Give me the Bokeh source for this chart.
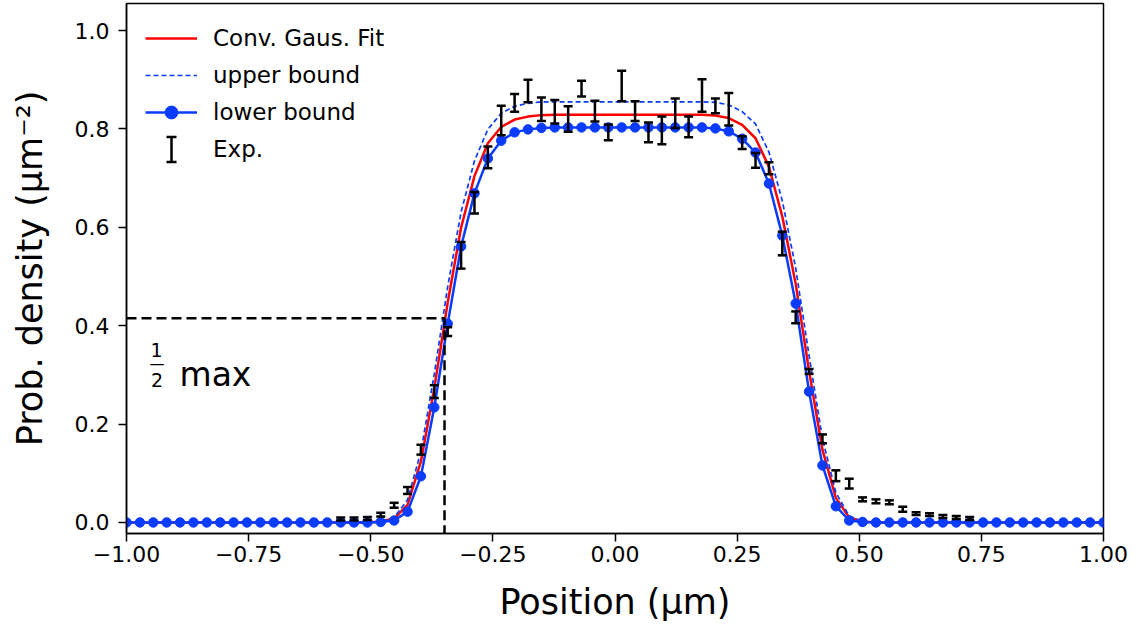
import math
from bokeh.plotting import figure
from bokeh.models import (Range1d, FixedTicker, Legend, LegendItem, Label, ColumnDataSource,
                          Whisker, TeeHead)
from bokeh.embed import file_html
from bokeh.resources import INLINE

# ---------------- data ----------------
positions = [-1.0000, -0.9726, -0.9452, -0.9178, -0.8904, -0.8630, -0.8356, -0.8082,
             -0.7808, -0.7534, -0.7260, -0.6986, -0.6712, -0.6438, -0.6164, -0.5890,
             -0.5616, -0.5342, -0.5068, -0.4795, -0.4521, -0.4247, -0.3973, -0.3699,
             -0.3425, -0.3151, -0.2877, -0.2603, -0.2329, -0.2055, -0.1781, -0.1507,
             -0.1233, -0.0959, -0.0685, -0.0411, -0.0137, 0.0137, 0.0411, 0.0685,
             0.0959, 0.1233, 0.1507, 0.1781, 0.2055, 0.2329, 0.2603, 0.2877,
             0.3151, 0.3425, 0.3699, 0.3973, 0.4247, 0.4521, 0.4795, 0.5068,
             0.5342, 0.5616, 0.5890, 0.6164, 0.6438, 0.6712, 0.6986, 0.7260,
             0.7534, 0.7808, 0.8082, 0.8356, 0.8630, 0.8904, 0.9178, 0.9452,
             0.9726, 1.0000]

lower_bound = [0.0, 0.0, 0.0, 0.0, 0.0, 0.0, 0.0, 0.0, 0.0, 0.0,
               0.0, 0.0, 0.0, 0.0, 0.0, 0.0, 0.0, 0.0, 0.0,
               0.001, 0.004, 0.022, 0.094, 0.234, 0.404, 0.561, 0.669, 0.740, 0.776,
               0.793, 0.799, 0.802,
               0.803, 0.803, 0.803, 0.803, 0.803, 0.803, 0.803, 0.803, 0.803, 0.803,
               0.803, 0.803,
               0.801, 0.795, 0.780, 0.752, 0.689, 0.583, 0.445, 0.266, 0.116, 0.033,
               0.004, 0.001,
               0.0, 0.0, 0.0, 0.0, 0.0, 0.0, 0.0, 0.0, 0.0, 0.0,
               0.0, 0.0, 0.0, 0.0, 0.0, 0.0, 0.0, 0.0]

gaus_fit = [0.0, 0.0, 0.0, 0.0, 0.0, 0.0, 0.0, 0.0, 0.0, 0.0,
            0.0, 0.0, 0.0, 0.0, 0.0, 0.0, 0.0, 0.0, 0.0,
            0.002, 0.008, 0.036, 0.124, 0.273, 0.447, 0.599, 0.704, 0.771, 0.804,
            0.819, 0.825, 0.828,
            0.829, 0.829, 0.829, 0.829, 0.829, 0.829, 0.829, 0.829, 0.829, 0.829,
            0.829, 0.829,
            0.827, 0.822, 0.808, 0.781, 0.723, 0.622, 0.485, 0.308, 0.148, 0.050,
            0.010, 0.002,
            0.0, 0.0, 0.0, 0.0, 0.0, 0.0, 0.0, 0.0, 0.0, 0.0,
            0.0, 0.0, 0.0, 0.0, 0.0, 0.0, 0.0, 0.0]

upper_bound = [0.0, 0.0, 0.0, 0.0, 0.0, 0.0, 0.0, 0.0, 0.0, 0.0,
               0.0, 0.0, 0.0, 0.0, 0.0, 0.0, 0.0, 0.0, 0.0,
               0.002, 0.010, 0.046, 0.144, 0.302, 0.479, 0.631, 0.735, 0.799, 0.832,
               0.846, 0.852, 0.855,
               0.855, 0.855, 0.855, 0.855, 0.855, 0.855, 0.855, 0.855, 0.855, 0.855,
               0.855, 0.855,
               0.854, 0.849, 0.835, 0.810, 0.753, 0.654, 0.517, 0.339, 0.170, 0.061,
               0.013, 0.002,
               0.0, 0.0, 0.0, 0.0, 0.0, 0.0, 0.0, 0.0, 0.0, 0.0,
               0.0, 0.0, 0.0, 0.0, 0.0, 0.0, 0.0, 0.0]

exp_positions = [-0.5616, -0.5342, -0.5068, -0.4795, -0.4521, -0.4247, -0.3973, -0.3699,
                 -0.3425, -0.3151, -0.2877, -0.2603, -0.2329, -0.2055, -0.1781, -0.1507,
                 -0.1233, -0.0959, -0.0685, -0.0411, -0.0137, 0.0137, 0.0411, 0.0685,
                 0.0959, 0.1233, 0.1507, 0.1781, 0.2055, 0.2329, 0.2603, 0.2877,
                 0.3151, 0.3425, 0.3699, 0.3973, 0.4247, 0.4521, 0.4795, 0.5068,
                 0.5342, 0.5616, 0.5890, 0.6164, 0.6438, 0.6712, 0.6986, 0.7260]

exp_values = [0.007, 0.007, 0.008, 0.016, 0.035, 0.065, 0.148, 0.266, 0.388,
              0.543, 0.650, 0.742, 0.817, 0.853, 0.877, 0.840, 0.835, 0.820, 0.882, 0.836, 0.793,
              0.887, 0.836, 0.793, 0.797, 0.832, 0.804, 0.868, 0.847, 0.840, 0.772, 0.736, 0.720,
              0.567, 0.417, 0.307, 0.170, 0.095, 0.079, 0.047, 0.043, 0.041, 0.027, 0.018,
              0.016, 0.012, 0.010, 0.008]

exp_errors = [0.003, 0.003, 0.003, 0.004, 0.005, 0.007, 0.010, 0.013, 0.009,
              0.027, 0.022, 0.022, 0.030, 0.018, 0.023, 0.024, 0.024, 0.026, 0.016, 0.021, 0.016,
              0.031, 0.020, 0.020, 0.028, 0.030, 0.021, 0.033, 0.015, 0.033, 0.013, 0.015, 0.012,
              0.024, 0.012, 0.005, 0.009, 0.011, 0.010, 0.004, 0.004, 0.004, 0.005, 0.003,
              0.003, 0.003, 0.003, 0.003]

half_max_x = [-1.0, -0.349, -0.349]
half_max_y = [0.415, 0.415, -0.0224]

x_ticks = [-1.0, -0.75, -0.5, -0.25, 0.0, 0.25, 0.5, 0.75, 1.0]
x_tick_labels = ["\u22121.00", "\u22120.75", "\u22120.50", "\u22120.25", "0.00",
                 "0.25", "0.50", "0.75", "1.00"]
y_ticks = [0.0, 0.2, 0.4, 0.6, 0.8, 1.0]
y_tick_labels = ["0.0", "0.2", "0.4", "0.6", "0.8", "1.0"]

legend_labels = ["Conv. Gaus. Fit", "upper bound", "lower bound", "Exp."]

# ---------------- styling ----------------
FONT = "DejaVu Sans"
BLUE = "#0a3cff"
RED = "#ff0000"
FRAME_H = 530          # frame height in px (629 - 3 - 96)

p = figure(width=1130, height=629,
           x_range=Range1d(-1.0, 1.0), y_range=Range1d(-0.0224, 1.0549),
           output_backend="svg", toolbar_location=None,
           min_border_left=126, min_border_top=3, min_border_right=27, min_border_bottom=96)
p.background_fill_color = "white"
p.border_fill_color = "white"
p.grid.visible = False
p.outline_line_color = "black"
p.outline_line_width = 1.5
p.outline_line_alpha = 1.0

for ax in (p.xaxis[0], p.yaxis[0]):
    ax.axis_line_color = "black"
    ax.axis_line_width = 1.5
    ax.major_tick_line_color = "black"
    ax.major_tick_line_width = 1.5
    ax.major_tick_out = 8
    ax.major_tick_in = 0
    ax.minor_tick_line_color = None
    ax.major_label_text_font = FONT
    ax.major_label_text_font_size = "22px"
    ax.major_label_text_color = "black"
    ax.axis_label_text_font = FONT
    ax.axis_label_text_font_size = "35px"
    ax.axis_label_text_font_style = "normal"
    ax.axis_label_text_color = "black"

p.yaxis.major_label_standoff = 9
p.xaxis.major_label_standoff = 4
p.xaxis.ticker = FixedTicker(ticks=x_ticks)
p.xaxis.major_label_overrides = dict(zip(x_ticks, x_tick_labels))
p.yaxis.ticker = FixedTicker(ticks=y_ticks)
p.yaxis.major_label_overrides = dict(zip(y_ticks, y_tick_labels))
p.xaxis.axis_label = "Position (\u03bcm)"
p.yaxis.axis_label = "Prob. density (\u03bcm\u207b\u00b2)"
p.xaxis.axis_label_standoff = 17
p.yaxis.axis_label_standoff = 22

# ---------------- glyphs ----------------
r_fit = p.line(positions, gaus_fit, line_color=RED, line_width=2.5)
r_upper = p.line(positions, upper_bound, line_color=BLUE, line_width=1.7, line_dash="5 3")
r_lower = p.line(positions, lower_bound, line_color=BLUE, line_width=2.5)
r_lower_pts = p.scatter(positions, lower_bound, size=9.5, fill_color=BLUE, line_color=BLUE)

lo = [v - e for v, e in zip(exp_values, exp_errors)]
hi = [v + e for v, e in zip(exp_values, exp_errors)]
src = ColumnDataSource(dict(x=exp_positions, lo=lo, hi=hi))
p.segment(x0="x", y0="lo", x1="x", y1="hi", source=src, line_color="black", line_width=2.5)
p.scatter(x="x", y="lo", source=src, marker="dash", size=9, line_color="black", line_width=2.5)
p.scatter(x="x", y="hi", source=src, marker="dash", size=9, line_color="black", line_width=2.5)
# invisible proxy so that "Exp." gets a legend row; its "I" symbol is drawn below
r_exp_proxy = p.scatter(x=[float("nan")], y=[float("nan")], marker="dash",
                        line_alpha=0, fill_alpha=0)

# half-max guide
p.line(half_max_x, half_max_y, line_color="black", line_width=2.5, line_dash="10 5")

# "1/2 max" annotation
p.add_layout(Label(x=-0.9386, y=0.3496, text="1", text_align="center", text_baseline="middle",
                   text_font=FONT, text_font_size="19px", text_color="black"))
p.add_layout(Label(x=-0.9376, y=0.2886, text="2", text_align="center", text_baseline="middle",
                   text_font=FONT, text_font_size="19px", text_color="black"))
p.add_layout(Label(x=-0.9376, y=0.322, text="\u2014", text_align="center", text_baseline="middle",
                   text_font=FONT, text_font_size="15px", text_color="black"))
p.add_layout(Label(x=-0.8915, y=0.3008, text="max", text_align="left", text_baseline="alphabetic",
                   text_font=FONT, text_font_size="33px", text_color="black"))

# ---------------- legend ----------------
LEG_MARGIN, LEG_PAD, LEG_GW, LEG_GH, LEG_SP = 9, 10, 52, 32, 5
legend = Legend(items=[
    LegendItem(label=legend_labels[0], renderers=[r_fit]),
    LegendItem(label=legend_labels[1], renderers=[r_upper]),
    LegendItem(label=legend_labels[2], renderers=[r_lower, r_lower_pts]),
    LegendItem(label=legend_labels[3], renderers=[r_exp_proxy]),
], location="top_left")
legend.label_text_font = FONT
legend.label_text_font_size = "23px"
legend.label_text_color = "black"
legend.glyph_width = LEG_GW
legend.glyph_height = LEG_GH
legend.label_height = LEG_GH
legend.spacing = LEG_SP
legend.label_standoff = 16
legend.padding = LEG_PAD
legend.margin = LEG_MARGIN
legend.border_line_alpha = 0
legend.background_fill_alpha = 0
p.add_layout(legend)

# error-bar symbol of the "Exp." legend row (frame-relative screen units)
sym_x = LEG_MARGIN + LEG_PAD + LEG_GW / 2
sym_cy = FRAME_H - (LEG_MARGIN + LEG_PAD + 3 * (LEG_GH + LEG_SP) + LEG_GH / 2)
p.add_layout(Whisker(base=sym_x, lower=sym_cy - 12.5, upper=sym_cy + 12.5, dimension="height",
                     base_units="screen", lower_units="screen", upper_units="screen",
                     line_color="black", line_width=2.5,
                     upper_head=TeeHead(size=10, line_width=2.5, line_color="black"),
                     lower_head=TeeHead(size=10, line_width=2.5, line_color="black")))

open("out.html", "w").write(file_html(p, INLINE))
